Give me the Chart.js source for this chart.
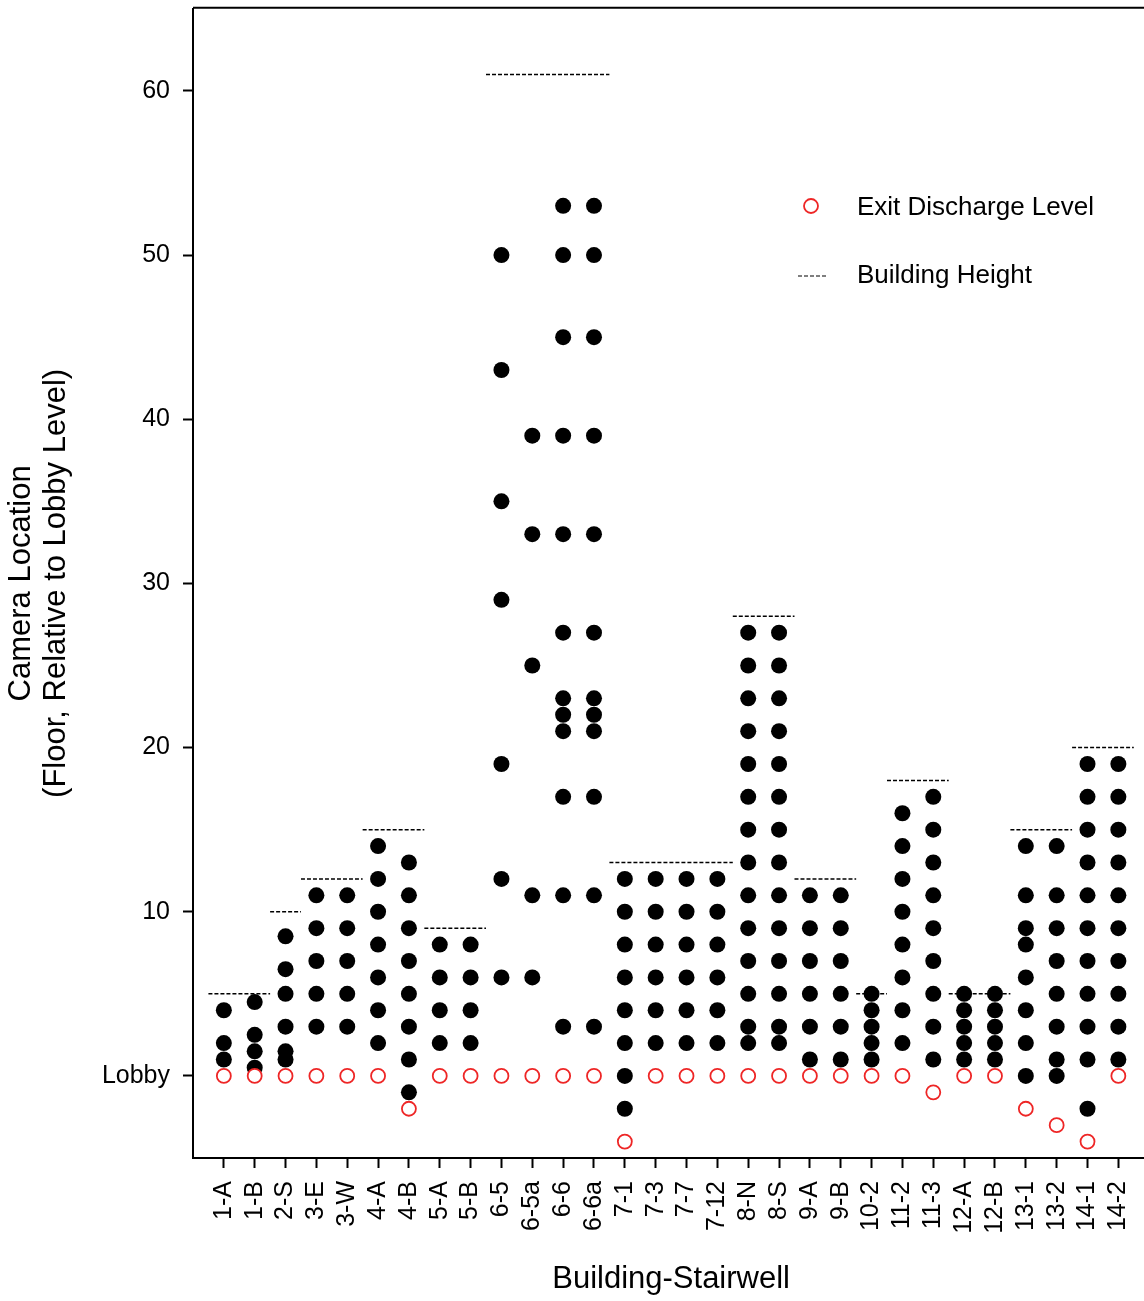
<!DOCTYPE html>
<html>
<head>
<meta charset="utf-8">
<script src="https://cdn.jsdelivr.net/npm/chart.js@4/dist/chart.umd.min.js"></script>
<style>
  body { margin: 0; overflow: hidden; background: #fff; }
  canvas { display: block; }
</style>
</head>
<body>
<canvas id="cameraChart" width="1158" height="1301"></canvas>
<script>

//data

const stairwells = ['1-A', '1-B', '2-S', '3-E', '3-W', '4-A', '4-B', '5-A', '5-B', '6-5', '6-5a', '6-6', '6-6a',
  '7-1', '7-3', '7-7', '7-12', '8-N', '8-S', '9-A', '9-B', '10-2', '11-2', '11-3', '12-A', '12-B',
  '13-1', '13-2', '14-1', '14-2'];

const buildings = ['1', '2', '3', '4', '5', '6', '7', '8', '9', '10', '11', '12', '13', '14'];
const buildingHeights = [5, 10, 12, 15, 9, 61, 13, 28, 12, 5, 18, 5, 15, 20];

const cameraFloors = [
  [4, 2, 1],
  [4.5, 2.5, 1.5, 0.5],
  [8.5, 6.5, 5, 3, 1.5, 1],
  [11, 9, 7, 5, 3],
  [11, 9, 7, 5, 3],
  [14, 12, 10, 8, 6, 4, 2],
  [13, 11, 9, 7, 5, 3, 1, -1],
  [8, 6, 4, 2],
  [8, 6, 4, 2],
  [50, 43, 35, 29, 19, 12, 6],
  [39, 33, 25, 11, 6],
  [53, 50, 45, 39, 33, 27, 23, 22, 21, 17, 11, 3],
  [53, 50, 45, 39, 33, 27, 23, 22, 21, 17, 11, 3],
  [12, 10, 8, 6, 4, 2, 0, -2],
  [12, 10, 8, 6, 4, 2],
  [12, 10, 8, 6, 4, 2],
  [12, 10, 8, 6, 4, 2],
  [27, 25, 23, 21, 19, 17, 15, 13, 11, 9, 7, 5, 3, 2],
  [27, 25, 23, 21, 19, 17, 15, 13, 11, 9, 7, 5, 3, 2],
  [11, 9, 7, 5, 3, 1],
  [11, 9, 7, 5, 3, 1],
  [5, 4, 3, 2, 1],
  [16, 14, 12, 10, 8, 6, 4, 2],
  [17, 15, 13, 11, 9, 7, 5, 3, 1],
  [5, 4, 3, 2, 1],
  [5, 4, 3, 2, 1],
  [14, 11, 9, 8, 6, 4, 2, 0],
  [14, 11, 9, 7, 5, 3, 1, 0],
  [19, 17, 15, 13, 11, 9, 7, 5, 3, 1, -2],
  [19, 17, 15, 13, 11, 9, 7, 5, 3, 1]
];

const exitLevels = [0, 0, 0, 0, 0, 0, -2, 0, 0, 0, 0, 0, 0, -4, 0, 0, 0, 0, 0, 0, 0, 0, 0, -1, 0, 0, -2, -3, -4, 0];

const yTickValues = [0, 10, 20, 30, 40, 50, 60];
const yTickLabels = ['Lobby', '10', '20', '30', '40', '50', '60'];

const FONT = '"Liberation Sans", Arial, sans-serif';
const RED = '#ee2626';

//build datasets

var cameraPoints = [];
cameraFloors.forEach((floors, i) => {
  floors.forEach(f => cameraPoints.push({x: i, y: f}));
});

var exitPoints = exitLevels.map((v, i) => ({x: i, y: v}));

var heightSets = buildings.map((b, k) => {
  var idx = [];
  stairwells.forEach((s, i) => { if (s.split('-')[0] === b) idx.push(i); });
  return {
    type: 'line',
    label: 'Building Height',
    data: [
      {x: idx[0] - 0.5, y: buildingHeights[k]},
      {x: idx[idx.length - 1] + 0.5, y: buildingHeights[k]}
    ],
    borderColor: '#000',
    borderWidth: 1.5,
    borderDash: [4, 2],
    pointRadius: 0,
    order: 2
  };
});

//legend + top border

const extras = {
  id: 'extras',
  afterDraw(chart) {
    const ctx = chart.ctx;
    const a = chart.chartArea;
    ctx.save();
    ctx.strokeStyle = '#000';
    ctx.lineWidth = 2;
    ctx.beginPath();
    ctx.moveTo(a.left, a.top - 1);
    ctx.lineTo(a.right, a.top - 1);
    ctx.stroke();

    ctx.strokeStyle = RED;
    ctx.lineWidth = 1.8;
    ctx.beginPath();
    ctx.arc(811, 206, 7, 0, Math.PI * 2);
    ctx.stroke();

    ctx.strokeStyle = '#000';
    ctx.lineWidth = 1.2;
    ctx.setLineDash([4, 2]);
    ctx.beginPath();
    ctx.moveTo(798, 276);
    ctx.lineTo(828, 276);
    ctx.stroke();
    ctx.setLineDash([]);

    ctx.fillStyle = '#000';
    ctx.font = '26px ' + FONT;
    ctx.textBaseline = 'middle';
    ctx.textAlign = 'left';
    ctx.fillText('Exit Discharge Level', 857, 208);
    ctx.fillText('Building Height', 857, 276);
    ctx.restore();
  }
};

//chart

var myChart = document.getElementById('cameraChart').getContext('2d');
var cameraChart = new Chart(myChart, {
  type: 'scatter',
  data: {
    datasets: [{
      label: 'Exit Discharge Level',
      data: exitPoints,
      pointRadius: 7,
      pointBorderWidth: 1.8,
      pointBorderColor: RED,
      pointBackgroundColor: '#fff',
      order: 0
    }, {
      label: 'Camera Location',
      data: cameraPoints,
      pointRadius: 8,
      pointBorderWidth: 0,
      pointBackgroundColor: '#000',
      order: 1
    }].concat(heightSets)
  },
  options: {
    responsive: false,
    animation: false,
    devicePixelRatio: 1,
    layout: { padding: { top: 8, right: 1, left: 0, bottom: 0 } },
    plugins: {
      legend: { display: false },
      tooltip: { enabled: false }
    },
    scales: {
      x: {
        type: 'linear',
        min: -1,
        max: 30,
        afterBuildTicks: axis => { axis.ticks = stairwells.map((s, i) => ({value: i})); },
        afterFit: axis => {
          axis.height = 143;
          axis.paddingLeft = 0;
          axis.paddingRight = 0;
        },
        ticks: {
          autoSkip: false,
          minRotation: 90,
          maxRotation: 90,
          padding: 13,
          color: '#000',
          font: { family: FONT, size: 25 },
          callback: v => stairwells[v]
        },
        grid: {
          drawOnChartArea: false,
          drawTicks: true,
          tickLength: 10,
          tickColor: '#000',
          tickWidth: 2
        },
        border: { display: true, color: '#000', width: 2 },
        title: {
          display: true,
          text: 'Building-Stairwell',
          color: '#000',
          font: { family: FONT, size: 31 },
          padding: { top: 0, bottom: 3 }
        }
      },
      y: {
        min: -5,
        max: 65,
        afterBuildTicks: axis => { axis.ticks = yTickValues.map(v => ({value: v})); },
        afterFit: axis => {
          axis.width = 193;
          axis.paddingTop = 0;
          axis.paddingBottom = 0;
        },
        ticks: {
          padding: 13,
          color: '#000',
          font: { family: FONT, size: 25 },
          callback: (v, i) => yTickLabels[i]
        },
        grid: {
          drawOnChartArea: false,
          drawTicks: true,
          tickLength: 10,
          tickColor: '#000',
          tickWidth: 2
        },
        border: { display: true, color: '#000', width: 2 },
        title: {
          display: true,
          text: ['Camera Location', '(Floor, Relative to Lobby Level)'],
          color: '#000',
          font: { family: FONT, size: 31, lineHeight: 1.13 },
          padding: { top: 4, bottom: 0 }
        }
      }
    }
  },
  plugins: [extras]
});
</script>
</body>
</html>
